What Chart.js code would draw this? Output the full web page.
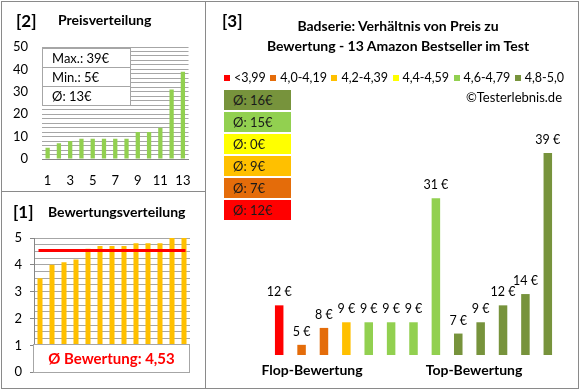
<!DOCTYPE html>
<html lang="de">
<head>
<meta charset="utf-8" />
<title>Badserie - Preis und Bewertung</title>
<script src="https://cdn.jsdelivr.net/npm/chart.js@4"></script>
<style>
    body { margin: 0; background: #fff; font-family: Lato, "Open Sans", sans-serif; color: #000; }
    #wrap { position: relative; width: 580px; height: 390px; overflow: hidden; }
    canvas { position: absolute; }
    .line { position: absolute; background: #8a8a8a; }
    .t { position: absolute; white-space: nowrap; line-height: 1; }
    .b { font-weight: bold; }
    .info { position: absolute; left: 42px; top: 48px; width: 87px; border: 1px solid #a6a6a6; background: #fff; }
    .info div { height: 18px; line-height: 18px; padding-left: 9px; font-size: 13px; border-top: 1px solid #a6a6a6; }
    .info div:first-child { border-top: none; }
    #legend { position: absolute; left: 224px; top: 70px; width: 340px; display: flex; justify-content: space-between; font-size: 12.5px; }
    #legend span { display: flex; align-items: center; }
    #legend i { display: inline-block; width: 6px; height: 6px; margin-right: 4px; }
    #avgList div { position: absolute; left: 224px; width: 67px; height: 20px; line-height: 20px; font-size: 13px; padding-left: 9px; box-sizing: border-box; color: #1a1a1a; }
</style>
</head>
<body>
<div id="wrap">
    <canvas id="preisChart" width="205" height="191" style="left:0;top:0"></canvas>
    <canvas id="bewertungChart" width="205" height="196" style="left:0;top:192px"></canvas>
    <canvas id="vergleichChart" width="371" height="385" style="left:206px;top:2px"></canvas>

    <!-- frame -->
    <div class="line" style="left:1px;top:1px;width:578px;height:1px"></div>
    <div class="line" style="left:1px;top:388px;width:578px;height:1px"></div>
    <div class="line" style="left:1px;top:1px;width:1px;height:388px"></div>
    <div class="line" style="left:578px;top:1px;width:1px;height:388px"></div>
    <div class="line" style="left:205px;top:1px;width:1px;height:388px"></div>
    <div class="line" style="left:1px;top:191px;width:205px;height:1px"></div>

    <!-- [2] -->
    <div class="t b" style="left:16px;top:12px;font-size:17px">[2]</div>
    <div class="t b" style="left:58px;top:13px;font-size:14px">Preisverteilung</div>
    <div class="info" id="infoBox"></div>

    <!-- [1] -->
    <div class="t b" style="left:13px;top:203px;font-size:17px">[1]</div>
    <div class="t b" style="left:48px;top:205px;font-size:14px">Bewertungsverteilung</div>

    <!-- [3] -->
    <div class="t b" style="left:222px;top:12px;font-size:17px">[3]</div>
    <div class="t b" style="left:398px;top:19px;font-size:14px;transform:translateX(-50%)">Badserie: Verhältnis von Preis zu</div>
    <div class="t b" style="left:398px;top:39px;font-size:14px;transform:translateX(-50%)">Bewertung - 13 Amazon Bestseller im Test</div>
    <div id="legend"></div>
    <div class="t" style="left:562px;top:91px;font-size:13px;transform:translateX(-100%)">©Testerlebnis.de</div>
    <div id="avgList"></div>
    <div class="t b" style="left:312px;top:363px;font-size:14px;transform:translateX(-50%)">Flop-Bewertung</div>
    <div class="t b" style="left:474px;top:363px;font-size:14px;transform:translateX(-50%)">Top-Bewertung</div>
</div>

<script>
    // products 1..13, ordered by rating (flop -> top)
    const produkte = ['1', '2', '3', '4', '5', '6', '7', '8', '9', '10', '11', '12', '13'];
    const bewertungen = [3.5, 4.0, 4.1, 4.2, 4.6, 4.7, 4.7, 4.7, 4.8, 4.8, 4.8, 5.0, 5.0];
    const preise = [12, 5, 8, 9, 9, 9, 9, 31, 7, 9, 12, 14, 39];

    // rating classes
    const klassen = ['<3,99', '4,0-4,19', '4,2-4,39', '4,4-4,59', '4,6-4,79', '4,8-5,0'];
    const klassenAb = [0, 4.0, 4.2, 4.4, 4.6, 4.8];
    const klassenFarben = ['#FF0000', '#E46C0A', '#FFC000', '#FFFF00', '#92D050', '#77933C'];

    const preiseSortiert = preise.slice().sort((a, b) => a - b);
    const klasseVon = b => klassenAb.reduce((k, ab, i) => (b >= ab - 1e-9 ? i : k), 0);
    const barFarben = bewertungen.map(b => klassenFarben[klasseVon(b)]);

    const font = 'Lato, "Open Sans", sans-serif';
    Chart.defaults.font.family = font;
    Chart.defaults.color = '#000';

    const istGanz = v => Math.abs(v - Math.round(v)) < 1e-6;

    // info box [2]
    const summe = preise.reduce((a, b) => a + b, 0);
    document.getElementById('infoBox').innerHTML =
        '<div>Max.: ' + Math.max(...preise) + '€</div>' +
        '<div>Min.: ' + Math.min(...preise) + '€</div>' +
        '<div>Ø: ' + Math.round(summe / preise.length) + '€</div>';

    const avgBewertung = bewertungen.reduce((a, b) => a + b, 0) / bewertungen.length;

    // legend + class averages [3]
    document.getElementById('legend').innerHTML = klassen.map((k, i) =>
        '<span><i style="background:' + klassenFarben[i] + '"></i>' + k + '</span>').join('');

    let listHtml = '';
    for (let i = klassen.length - 1, row = 0; i >= 0; i--, row++) {
        const p = preise.filter((_, j) => klasseVon(bewertungen[j]) === i);
        const avg = p.length ? Math.round(p.reduce((a, b) => a + b, 0) / p.length) : 0;
        listHtml += '<div style="top:' + (90 + row * 22) + 'px;background:' + klassenFarben[i] + '">Ø: ' + avg + '€</div>';
    }
    document.getElementById('avgList').innerHTML = listHtml;

    // [2] Preisverteilung
    new Chart(document.getElementById('preisChart'), {
        type: 'bar',
        data: {
            labels: produkte,
            datasets: [{
                data: preiseSortiert,
                backgroundColor: '#92D050',
                barPercentage: 0.38,
                categoryPercentage: 1
            }]
        },
        options: {
            responsive: false,
            animation: false,
            layout: { padding: { top: 47, right: 15, bottom: 2, left: 0 } },
            plugins: { legend: { display: false }, tooltip: { enabled: false } },
            scales: {
                x: {
                    grid: { display: false, drawTicks: false },
                    border: { color: '#868686' },
                    ticks: {
                        padding: 14, autoSkip: false, maxRotation: 0, font: { size: 13 },
                        callback: (v, i) => (i % 2 === 0 ? produkte[i] : '')
                    },
                    afterFit: s => { s.height = 30; }
                },
                y: {
                    min: 0, max: 50,
                    grid: { color: '#a6a6a6', drawTicks: false },
                    border: { display: false },
                    ticks: {
                        stepSize: 2, autoSkip: false, padding: 14, font: { size: 13 },
                        callback: v => (v % 10 === 0 ? String(v) : '')
                    },
                    afterFit: s => { s.width = 42; }
                }
            }
        }
    });

    // [1] average box drawn on the canvas over the lower part of the bars
    const avgBoxPlugin = {
        id: 'avgBox',
        afterDatasetsDraw(chart) {
            const ctx = chart.ctx;
            const y = chart.scales.y;
            const area = chart.chartArea;
            const top = Math.round(y.getPixelForValue(1)) - 1;
            const bottom = Math.round(y.getPixelForValue(0)) + 1;
            const left = Math.round(area.left) - 1;
            const right = Math.round(area.right);
            ctx.save();
            ctx.fillStyle = '#fff';
            ctx.fillRect(left, top, right - left, bottom - top);
            ctx.strokeStyle = '#a6a6a6';
            ctx.lineWidth = 1;
            ctx.strokeRect(left + 0.5, top + 0.5, right - left - 1, bottom - top - 1);
            ctx.fillStyle = '#FF0000';
            ctx.font = 'bold 15px ' + font;
            ctx.textAlign = 'center';
            ctx.textBaseline = 'middle';
            ctx.fillText('Ø Bewertung: ' + avgBewertung.toFixed(2).replace('.', ','), (left + right) / 2, (top + bottom) / 2 + 1);
            ctx.restore();
        }
    };

    // [1] Bewertungsverteilung
    new Chart(document.getElementById('bewertungChart'), {
        type: 'bar',
        data: {
            labels: produkte,
            datasets: [{
                type: 'line',
                data: bewertungen.map(() => avgBewertung),
                borderColor: '#FF0000',
                borderWidth: 3,
                borderCapStyle: 'square',
                pointRadius: 0,
                order: 0
            }, {
                data: bewertungen,
                backgroundColor: '#FFC000',
                barPercentage: 0.42,
                categoryPercentage: 1,
                order: 1
            }]
        },
        options: {
            responsive: false,
            animation: false,
            layout: { padding: { top: 46, right: 15, bottom: 15, left: 0 } },
            plugins: { legend: { display: false }, tooltip: { enabled: false } },
            scales: {
                x: { display: false },
                y: {
                    min: 0, max: 5,
                    grid: {
                        color: '#a6a6a6', tickLength: 4,
                        tickColor: c => (c.tick && istGanz(c.tick.value) ? '#868686' : 'rgba(0,0,0,0)')
                    },
                    border: { color: '#868686' },
                    ticks: {
                        stepSize: 0.25, autoSkip: false, padding: 8, font: { size: 13 },
                        callback: v => (istGanz(v) ? String(Math.round(v)) : '')
                    },
                    afterFit: s => { s.width = 34; }
                }
            }
        },
        plugins: [avgBoxPlugin]
    });

    // [3] price labels above bars
    const preisLabels = {
        id: 'preisLabels',
        afterDatasetsDraw(chart) {
            const ctx = chart.ctx;
            const ds = chart.data.datasets[0];
            ctx.save();
            ctx.font = '12.5px ' + font;
            ctx.fillStyle = '#000';
            ctx.textAlign = 'center';
            ctx.textBaseline = 'middle';
            chart.getDatasetMeta(0).data.forEach((bar, i) => {
                ctx.fillText(ds.data[i] + ' €', bar.x, bar.y - 13);
            });
            ctx.restore();
        }
    };

    new Chart(document.getElementById('vergleichChart'), {
        type: 'bar',
        data: {
            labels: produkte,
            datasets: [{
                data: preise,
                backgroundColor: barFarben,
                barPercentage: 0.38,
                categoryPercentage: 1
            }]
        },
        options: {
            responsive: false,
            animation: false,
            layout: { padding: { top: 151, right: 18, bottom: 32, left: 62 } },
            plugins: { legend: { display: false }, tooltip: { enabled: false } },
            scales: {
                x: { display: false },
                y: { display: false, min: 3.2, max: 39 }
            }
        },
        plugins: [preisLabels]
    });
</script>
</body>
</html>
